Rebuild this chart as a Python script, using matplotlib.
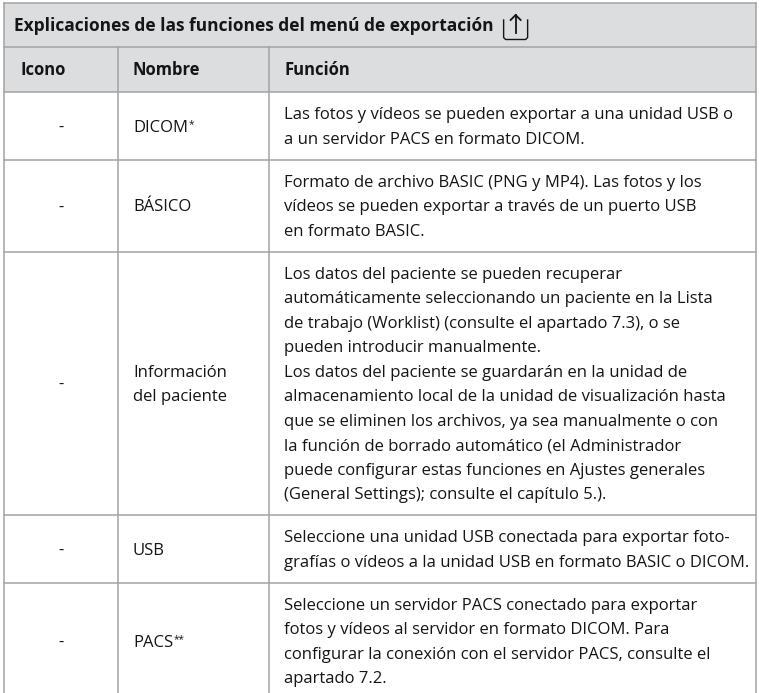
import matplotlib.pyplot as plt
from matplotlib.patches import Rectangle

FONT = ["Open Sans", "DejaVu Sans"]

title = "Explicaciones de las funciones del menú de exportación"
headers = ["Icono", "Nombre", "Función"]
icons = ["-", "-", "-", "-", "-"]
names = [["DICOM"], ["BÁSICO"], ["Información", "del paciente"], ["USB"], ["PACS"]]
name_marks = ["*", "", "", "", "**"]
functions = [
    ["Las fotos y vídeos se pueden exportar a una unidad USB o",
     "a un servidor PACS en formato DICOM."],
    ["Formato de archivo BASIC (PNG y MP4). Las fotos y los",
     "vídeos se pueden exportar a través de un puerto USB",
     "en formato BASIC."],
    ["Los datos del paciente se pueden recuperar",
     "automáticamente seleccionando un paciente en la Lista",
     "de trabajo (Worklist) (consulte el apartado 7.3), o se",
     "pueden introducir manualmente.",
     "Los datos del paciente se guardarán en la unidad de",
     "almacenamiento local de la unidad de visualización hasta",
     "que se eliminen los archivos, ya sea manualmente o con",
     "la función de borrado automático (el Administrador",
     "puede configurar estas funciones en Ajustes generales",
     "(General Settings); consulte el capítulo 5.)."],
    ["Seleccione una unidad USB conectada para exportar foto-",
     "grafías o vídeos a la unidad USB en formato BASIC o DICOM."],
    ["Seleccione un servidor PACS conectado para exportar",
     "fotos y vídeos al servidor en formato DICOM. Para",
     "configurar la conexión con el servidor PACS, consulte el",
     "apartado 7.2."],
]

W, H = 759, 693
fig = plt.figure(figsize=(W / 100, H / 100), dpi=100)
ax = fig.add_axes([0, 0, 1, 1])
ax.set_xlim(0, W)
ax.set_ylim(H, 0)
ax.axis("off")
renderer = fig.canvas.get_renderer()

TXT = "#151515"
GRID = "#a3a3a3"
BAND = "#dcdddf"
LW = 1.1


def text_width(s, size, weight="normal"):
    t = ax.text(0, 0, s, fontsize=size, family=FONT, weight=weight)
    w = t.get_window_extent(renderer).width
    t.remove()
    return w


# fit font sizes to the widths seen in the reference
body_size = min(12 * 458 / text_width(functions[2][5], 12),
                12 * 464 / text_width(functions[3][1], 12))
title_size = 12 * 479 / text_width(title, 12, "bold")
cap = lambda s: s * 100 / 72 * 0.714

# geometry
left, right = 4, 756
col_x = [4, 118, 269, 756]
top = 3
title_bottom = 47
header_bottom = 92
line_step = 24.5
pad = 18.5

# title band and header band
ax.add_patch(Rectangle((left, top), right - left, header_bottom - top,
                       facecolor=BAND, edgecolor="none", zorder=0))

ytitle = (top + title_bottom) / 2
ax.text(14, ytitle + cap(title_size) / 2, title, fontsize=title_size,
        family=FONT, weight="bold", color=TXT, va="baseline")

# export icon next to the title
ix = 14 + text_width(title, title_size, "bold") + 10
ax.plot([ix, ix, ix + 2, ix + 22, ix + 24, ix + 24],
        [20, 37.5, 39.5, 39.5, 37.5, 20], color=TXT, lw=1.0,
        solid_joinstyle="round", zorder=3)
ax.plot([ix + 12, ix + 12], [33, 15], color=TXT, lw=1.3, zorder=3)
ax.plot([ix + 7, ix + 12, ix + 17], [20, 15, 20], color=TXT, lw=1.3,
        solid_joinstyle="miter", zorder=3)

yhead = (title_bottom + header_bottom) / 2
for hx, h in zip([20, 133, 284], headers):
    ax.text(hx, yhead + cap(body_size) / 2, h, fontsize=body_size,
            family=FONT, weight="bold", color=TXT, va="baseline")

# body rows
y0 = header_bottom
row_lines = [top, title_bottom, header_bottom]
for icon, name, mark, func in zip(icons, names, name_marks, functions):
    n = max(len(func), len(name))
    h = n * line_step + pad
    yc = y0 + h / 2
    ax.text(61, yc + cap(body_size) / 2, icon, fontsize=body_size,
            family=FONT, color=TXT, ha="center", va="baseline")
    for k, s in enumerate(name):
        yb = yc + (k - (len(name) - 1) / 2) * line_step + cap(body_size) / 2
        ax.text(133, yb, s, fontsize=body_size, family=FONT, color=TXT,
                va="baseline")
        if mark and k == len(name) - 1:
            mx = 133 + text_width(s, body_size) + 0.5
            ax.text(mx, yb - cap(body_size) * 0.42, mark,
                    fontsize=body_size * 0.6, family=FONT, color=TXT,
                    va="baseline")
    for k, s in enumerate(func):
        yb = yc + (k - (len(func) - 1) / 2) * line_step + cap(body_size) / 2
        ax.text(284, yb, s, fontsize=body_size, family=FONT, color=TXT,
                va="baseline")
    y0 += h
    row_lines.append(y0)

# grid
for y in row_lines:
    ax.plot([left, right], [y, y], color=GRID, lw=LW, zorder=2)
ax.plot([left, left], [top, H + 10], color=GRID, lw=LW, zorder=2)
ax.plot([right, right], [top, H + 10], color=GRID, lw=LW, zorder=2)
for x in col_x[1:-1]:
    ax.plot([x, x], [title_bottom, H + 10], color=GRID, lw=LW, zorder=2)

fig.savefig("out.png", dpi=100, facecolor="white")
